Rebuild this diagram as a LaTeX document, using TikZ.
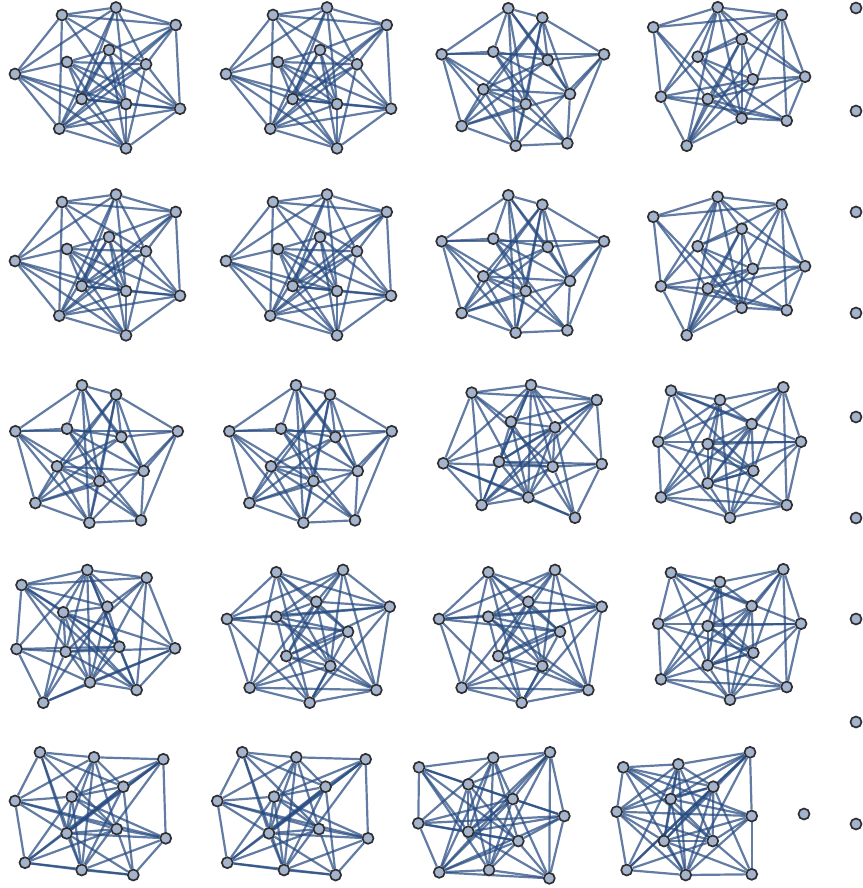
\documentclass[tikz,border=0pt]{standalone}
\definecolor{vfill}{RGB}{163,180,204}
\definecolor{vline}{RGB}{48,48,52}
\definecolor{ecol}{RGB}{38,74,128}
\pgfdeclarelayer{edges}
\pgfsetlayers{edges,main}
\tikzset{vtx/.style={circle,draw=vline,fill=vfill,line width=1.7pt,inner sep=0pt,minimum size=11pt},
 lnk/.style={draw=ecol,line width=2.2pt,opacity=0.72}}
\newcommand\EdgesOf[2]{\begin{pgfonlayer}{edges}\foreach \u/\v in {#2}{\draw[lnk] (#1\u) -- (#1\v);}\end{pgfonlayer}}
% template A
\newcommand\GTa[1]{%
 \node[vtx] (#1A) at (62,15) {};
 \node[vtx] (#1B) at (116,7.5) {};
 \node[vtx] (#1C) at (175.7,25) {};
 \node[vtx] (#1D) at (15,74) {};
 \node[vtx] (#1E) at (67,62) {};
 \node[vtx] (#1F) at (109,50) {};
 \node[vtx] (#1G) at (146,64.3) {};
 \node[vtx] (#1H) at (81.7,99) {};
 \node[vtx] (#1I) at (126,104) {};
 \node[vtx] (#1J) at (180,108.7) {};
 \node[vtx] (#1K) at (59.3,128.7) {};
 \node[vtx] (#1L) at (126,148.3) {};
 \EdgesOf{#1}{A/B,B/C,C/J,J/L,L/K,K/D,D/A,A/C,A/G,A/I,A/K,B/D,B/H,B/I,B/G,B/K,C/F,C/G,C/H,C/K,D/E,D/H,D/I,D/L,E/F,E/G,E/H,E/I,E/J,E/L,F/H,F/I,F/J,F/K,F/L,G/H,G/K,G/L,G/J,H/I,H/J,H/L,I/K,I/L,I/J,K/J}}
% template B
\newcommand\GTb[1]{%
 \node[vtx] (#1a) at (508.3,8.3) {};
 \node[vtx] (#1b) at (542.3,17.7) {};
 \node[vtx] (#1c) at (441.7,54.3) {};
 \node[vtx] (#1d) at (493.3,51.7) {};
 \node[vtx] (#1e) at (547.7,60) {};
 \node[vtx] (#1f) at (604,54.3) {};
 \node[vtx] (#1g) at (483.3,89.3) {};
 \node[vtx] (#1h) at (570,94) {};
 \node[vtx] (#1i) at (525.7,104) {};
 \node[vtx] (#1j) at (461.7,126) {};
 \node[vtx] (#1k) at (515.7,145.7) {};
 \node[vtx] (#1l) at (567.3,143.3) {};
 \EdgesOf{#1}{a/b,a/c,a/d,a/e,a/h,a/i,a/k,b/f,b/g,b/j,b/h,b/i,b/k,b/e,c/f,c/d,c/g,c/j,c/i,c/k,d/e,d/l,d/h,d/i,e/g,e/j,e/f,e/h,f/h,f/k,f/l,g/h,g/j,g/k,g/l,g/i,h/j,h/l,i/j,i/k,i/l,j/k,k/l}}
% template C
\newcommand\GTc[1]{%
 \node[vtx] (#1p) at (717.7,7.3) {};
 \node[vtx] (#1q) at (781.7,15) {};
 \node[vtx] (#1r) at (653.3,27.3) {};
 \node[vtx] (#1s) at (741.7,39.3) {};
 \node[vtx] (#1t) at (697.7,56.7) {};
 \node[vtx] (#1u) at (752.7,79.3) {};
 \node[vtx] (#1v) at (805,76.7) {};
 \node[vtx] (#1w) at (661,96.7) {};
 \node[vtx] (#1x) at (707.7,99) {};
 \node[vtx] (#1y) at (741.7,118.3) {};
 \node[vtx] (#1z) at (786.7,120.7) {};
 \node[vtx] (#1o) at (686.7,145.7) {};
 \EdgesOf{#1}{p/q,p/r,q/r,r/w,r/y,r/x,p/s,p/t,p/w,p/y,p/o,p/v,q/t,q/v,q/z,q/y,q/o,s/t,s/u,s/y,s/x,s/o,s/v,t/u,t/y,t/z,t/w,u/x,u/w,u/v,u/o,v/x,v/z,v/y,w/x,w/o,w/z,x/y,x/z,y/o,y/z,x/o}}
% template D
\newcommand\GTd[1]{%
 \node[vtx] (#1A) at (471.7,392.7) {};
 \node[vtx] (#1B) at (531,385) {};
 \node[vtx] (#1C) at (596.7,400) {};
 \node[vtx] (#1D) at (511,421.7) {};
 \node[vtx] (#1E) at (555,427.3) {};
 \node[vtx] (#1F) at (443.3,463.3) {};
 \node[vtx] (#1G) at (499,461.7) {};
 \node[vtx] (#1H) at (552.7,466.7) {};
 \node[vtx] (#1I) at (601.7,464) {};
 \node[vtx] (#1J) at (481.7,505) {};
 \node[vtx] (#1K) at (528.3,497.3) {};
 \node[vtx] (#1L) at (575,517.7) {};
 \EdgesOf{#1}{A/B,B/C,A/C,C/I,I/L,F/J,F/A,F/B,F/E,F/H,F/K,F/L,A/D,A/H,A/J,A/K,B/D,B/G,B/J,B/K,B/H,B/E,B/I,C/G,C/D,C/E,C/K,C/J,D/E,D/G,D/K,D/L,E/G,E/H,E/K,E/J,E/L,G/H,G/I,G/J,G/K,H/I,H/J,H/L,I/K,J/K,K/L}}
% template E
\newcommand\GTe[1]{%
 \node[vtx] (#1a) at (671,390.7) {};
 \node[vtx] (#1b) at (720,400) {};
 \node[vtx] (#1c) at (783.3,387.3) {};
 \node[vtx] (#1d) at (751.7,424) {};
 \node[vtx] (#1e) at (707.7,444) {};
 \node[vtx] (#1f) at (658.3,441.7) {};
 \node[vtx] (#1g) at (801,441.7) {};
 \node[vtx] (#1h) at (753.3,470.7) {};
 \node[vtx] (#1i) at (707.7,483.3) {};
 \node[vtx] (#1j) at (661,497.3) {};
 \node[vtx] (#1k) at (730,517.7) {};
 \node[vtx] (#1l) at (786.7,505) {};
 \EdgesOf{#1}{a/b,a/f,a/d,a/g,a/h,a/i,b/c,b/d,b/e,b/f,b/j,b/i,b/k,c/g,c/f,c/d,c/h,c/i,c/l,d/e,d/h,d/i,d/k,d/j,e/i,e/h,e/l,e/j,e/g,f/h,f/g,f/j,f/k,g/i,g/l,g/k,h/i,h/j,h/k,i/l,i/k,j/k,j/l,k/l}}
% template F
\newcommand\GTf[1]{%
 \node[vtx] (#1A) at (488.3,572.3) {};
 \node[vtx] (#1B) at (555,570) {};
 \node[vtx] (#1C) at (601.7,606.7) {};
 \node[vtx] (#1D) at (528.3,601.7) {};
 \node[vtx] (#1E) at (488.3,616.7) {};
 \node[vtx] (#1F) at (439,619) {};
 \node[vtx] (#1G) at (560,631.7) {};
 \node[vtx] (#1H) at (498.3,656) {};
 \node[vtx] (#1I) at (542.3,666) {};
 \node[vtx] (#1J) at (461.7,687.7) {};
 \node[vtx] (#1K) at (521.7,702.7) {};
 \node[vtx] (#1L) at (588.3,690) {};
 \EdgesOf{#1}{A/F,A/D,A/G,A/I,A/K,A/J,A/C,B/F,B/E,B/C,B/H,B/I,B/L,B/D,C/L,C/D,C/E,C/H,C/K,L/K,K/J,J/F,F/E,F/C,F/G,F/K,D/E,D/G,D/I,D/J,D/H,E/G,E/H,E/I,E/L,G/H,G/J,G/K,G/L,H/I,H/K,H/L,I/J,I/L,J/L,K/I}}
% template G
\newcommand\GTg[1]{%
 \node[vtx] (#1A) at (40,752.3) {};
 \node[vtx] (#1B) at (94,757.3) {};
 \node[vtx] (#1C) at (163.3,759.3) {};
 \node[vtx] (#1D) at (123.3,786.7) {};
 \node[vtx] (#1E) at (71.7,796.7) {};
 \node[vtx] (#1F) at (15,801) {};
 \node[vtx] (#1G) at (116.7,829) {};
 \node[vtx] (#1H) at (66.7,833.3) {};
 \node[vtx] (#1I) at (165.7,838.3) {};
 \node[vtx] (#1J) at (25,862.7) {};
 \node[vtx] (#1K) at (81.7,870) {};
 \node[vtx] (#1L) at (133.3,875) {};
 \EdgesOf{#1}{A/B,B/C,A/F,F/J,J/K,K/L,C/I,A/H,A/D,A/G,A/K,B/E,B/F,B/H,B/K,B/G,B/D,C/E,C/H,C/D,C/K,C/J,D/E,D/H,D/J,D/L,D/K,E/G,E/H,E/I,E/J,E/K,F/E,F/G,F/I,F/H,G/H,G/I,G/J,G/L,H/K,H/I,H/L,I/K,I/L,J/L}}
% template H
\newcommand\GTh[1]{%
 \node[vtx] (#1A) at (419,767.3) {};
 \node[vtx] (#1B) at (493.3,757.7) {};
 \node[vtx] (#1C) at (550,752.3) {};
 \node[vtx] (#1D) at (468.3,784.3) {};
 \node[vtx] (#1E) at (512.7,799) {};
 \node[vtx] (#1F) at (418.3,823.3) {};
 \node[vtx] (#1G) at (564.3,816) {};
 \node[vtx] (#1H) at (468.3,831.7) {};
 \node[vtx] (#1I) at (518.3,841) {};
 \node[vtx] (#1J) at (439.3,872.3) {};
 \node[vtx] (#1K) at (489,870) {};
 \node[vtx] (#1L) at (549.3,878.3) {};
 \EdgesOf{#1}{A/B,B/C,C/G,G/L,A/F,F/J,J/K,K/L,A/D,A/H,A/I,A/K,A/E,B/F,B/H,B/I,B/K,B/E,B/J,C/D,C/E,C/H,C/K,C/L,C/J,D/L,D/H,D/J,D/G,D/K,E/H,E/J,E/K,E/G,E/L,F/E,F/G,F/H,F/I,G/I,G/H,G/J,H/I,H/L,I/J,I/K,J/L}}
% template I
\newcommand\GTi[1]{%
 \node[vtx] (#1a) at (623.3,767.3) {};
 \node[vtx] (#1b) at (678.3,764.3) {};
 \node[vtx] (#1c) at (750,752.3) {};
 \node[vtx] (#1d) at (713.3,786.7) {};
 \node[vtx] (#1e) at (670.7,799) {};
 \node[vtx] (#1f) at (616.7,811.7) {};
 \node[vtx] (#1g) at (751.7,816) {};
 \node[vtx] (#1h) at (664,841) {};
 \node[vtx] (#1i) at (712.7,841) {};
 \node[vtx] (#1j) at (626.7,870) {};
 \node[vtx] (#1k) at (685.7,875) {};
 \node[vtx] (#1l) at (751.7,874.3) {};
 \EdgesOf{#1}{a/b,b/c,c/g,g/l,a/f,f/j,j/k,k/l,a/d,a/i,a/k,a/e,a/g,b/e,b/d,b/h,b/i,b/k,b/j,b/f,c/f,c/e,c/h,c/d,c/k,c/j,d/e,d/f,d/h,d/i,d/k,d/l,d/j,e/h,e/g,e/i,e/k,f/g,f/h,f/i,f/k,g/h,g/i,g/k,h/i,h/k,h/l,i/j,i/l}}
\begin{document}
\begin{tikzpicture}[x=1pt,y=-1pt]
\useasboundingbox (0,0) rectangle (862,888);
% row 1
\GTa{ra}
\begin{scope}[shift={(211,0)}]\GTa{rb}\end{scope}
\GTb{rc}
\GTc{rd}
% row 2
\begin{scope}[shift={(0,187)}]\GTa{sa}\end{scope}
\begin{scope}[shift={(211,187)}]\GTa{sb}\end{scope}
\begin{scope}[shift={(0,187)}]\GTb{sc}\end{scope}
\begin{scope}[shift={(0,189.5)}]\GTc{sd}\end{scope}
% row 3
\begin{scope}[shift={(-426.3,377)}]\GTb{ta}\end{scope}
\begin{scope}[shift={(-212.3,377)}]\GTb{tb}\end{scope}
\GTd{tc}
\GTe{td}
% row 4
\begin{scope}[shift={(618.3,185)},xscale=-1]\GTd{ua}\end{scope}
\begin{scope}[shift={(-212,0)}]\GTf{ub}\end{scope}
\GTf{uc}
\begin{scope}[shift={(0,182)}]\GTe{ud}\end{scope}
% row 5
\GTg{va}
\begin{scope}[shift={(202.3,0)}]\GTg{vb}\end{scope}
\GTh{vc}
\GTi{vd}
\node[vtx] (single) at (804,814) {};
% right column
\foreach \k/\yy in {1/8,2/111,3/212,4/313,5/417,6/518,7/619,8/722,9/824}{
  \node[vtx] (col\k) at (856,\yy) {};
}
\end{tikzpicture}
\end{document}
